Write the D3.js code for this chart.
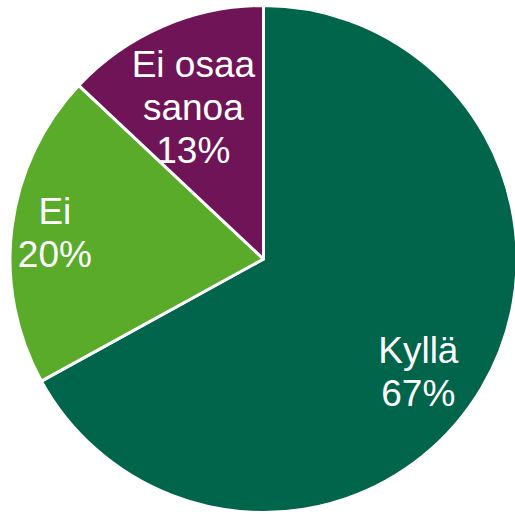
<!DOCTYPE html>
<html>
<head>
<meta charset="utf-8">
<script src="https://cdn.jsdelivr.net/npm/d3@7"></script>
<style>
  body { margin: 0; background: #fff; }
  svg { display: block; }
</style>
</head>
<body>
<svg width="515" height="514"></svg>
<script>
var categories = ["Kyllä", "Ei", "Ei osaa sanoa"],
    values = [67, 20, 13],
    labelLines = [["Kyllä", "67%"], ["Ei", "20%"], ["Ei osaa", "sanoa", "13%"]],
    colors = ["#00654a", "#5aab2a", "#6f1457"];

// label placement: radius fraction, angle shift (deg)
var labelPos = [[0.755, 5.4], [0.83, 0.2], [0.66, -1.4]];

var svg = d3.select("svg"),
    cx = 263.5, cy = 259, radius = 253.5,
    fontSize = 37, lineHeight = 43;

var g = svg.append("g")
    .attr("transform", "translate(" + cx + "," + cy + ")");

var pie = d3.pie().sort(null).value(function(d){ return d; });
var arc = d3.arc().innerRadius(0).outerRadius(radius);
var arcs = pie(values);

g.selectAll("path")
    .data(arcs)
    .enter().append("path")
    .attr("d", arc)
    .attr("fill", function(d, i){ return colors[i]; })
    .attr("stroke", "#fff")
    .attr("stroke-width", 3)
    .attr("stroke-linejoin", "round");

var labels = g.selectAll("text")
    .data(arcs)
    .enter().append("text")
    .attr("font-family", "'Liberation Sans', Arial, sans-serif")
    .attr("font-size", fontSize)
    .attr("fill", "#fff")
    .attr("text-anchor", "middle")
    .each(function(d, i) {
        var a = (d.startAngle + d.endAngle) / 2 + labelPos[i][1] * Math.PI / 180,
            r = radius * labelPos[i][0],
            x = Math.sin(a) * r,
            y = -Math.cos(a) * r,
            lines = labelLines[i],
            y0 = y - (lines.length - 1) * lineHeight / 2 + fontSize * 0.716 / 2;
        var t = d3.select(this);
        lines.forEach(function(l, k) {
            t.append("tspan").attr("x", x).attr("y", y0 + k * lineHeight).text(l);
        });
    });
</script>
</body>
</html>
